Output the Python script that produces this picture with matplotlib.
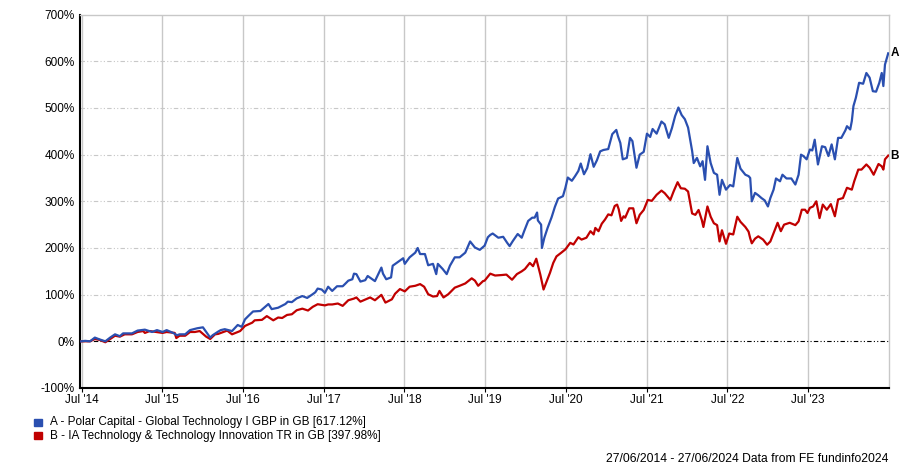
import matplotlib
matplotlib.use("Agg")
import matplotlib.pyplot as plt
from matplotlib.patches import Rectangle
from datetime import datetime, timedelta

plt.rcParams['font.family'] = ['Liberation Sans', 'DejaVu Sans']

# dates as decimal years, cumulative performance in %
year_a = [2014.49, 2014.54, 2014.60, 2014.66, 2014.72, 2014.79, 2014.85, 2014.91, 2014.97, 2015.01,
          2015.12, 2015.19, 2015.28, 2015.37, 2015.43, 2015.50, 2015.55, 2015.63, 2015.68, 2015.71,
          2015.78, 2015.84, 2015.93, 2016.00, 2016.05, 2016.09, 2016.12, 2016.19, 2016.22, 2016.27,
          2016.36, 2016.43, 2016.48, 2016.52, 2016.56, 2016.62, 2016.71, 2016.77, 2016.81, 2016.85,
          2016.93, 2017.02, 2017.05, 2017.10, 2017.16, 2017.23, 2017.29, 2017.35, 2017.39, 2017.42,
          2017.47, 2017.51, 2017.55, 2017.60, 2017.66, 2017.73, 2017.76, 2017.80, 2017.85, 2017.87,
          2017.90, 2017.95, 2018.01, 2018.04, 2018.13, 2018.21, 2018.23, 2018.27, 2018.33, 2018.35,
          2018.44, 2018.48, 2018.50, 2018.56, 2018.63, 2018.66, 2018.69, 2018.75, 2018.79, 2018.85,
          2018.89, 2018.91, 2018.97, 2019.02, 2019.06, 2019.12, 2019.18, 2019.25, 2019.31, 2019.37,
          2019.43, 2019.49, 2019.53, 2019.56, 2019.59, 2019.66, 2019.72, 2019.77, 2019.80, 2019.84,
          2019.90, 2019.95, 2019.98, 2020.03, 2020.08, 2020.11, 2020.14, 2020.15, 2020.19, 2020.20,
          2020.23, 2020.27, 2020.32, 2020.36, 2020.40, 2020.46, 2020.49, 2020.52, 2020.57, 2020.61,
          2020.65, 2020.68, 2020.72, 2020.76, 2020.80, 2020.84, 2020.88, 2020.92, 2020.96, 2021.02,
          2021.07, 2021.12, 2021.14, 2021.17, 2021.20, 2021.25, 2021.29, 2021.32, 2021.37, 2021.41,
          2021.46, 2021.50, 2021.54, 2021.57, 2021.62, 2021.68, 2021.72, 2021.77, 2021.81, 2021.85,
          2021.89, 2021.93, 2021.97, 2022.01, 2022.06, 2022.08, 2022.12, 2022.16, 2022.19, 2022.22,
          2022.25, 2022.29, 2022.33, 2022.37, 2022.40, 2022.43, 2022.48, 2022.53, 2022.57, 2022.62,
          2022.66, 2022.72, 2022.76, 2022.78, 2022.80, 2022.84, 2022.88, 2022.92, 2022.96, 2023.00,
          2023.03, 2023.07, 2023.10, 2023.15, 2023.18, 2023.23, 2023.29, 2023.34, 2023.38, 2023.41,
          2023.44, 2023.48, 2023.52, 2023.55, 2023.58, 2023.62, 2023.67, 2023.71, 2023.75, 2023.79,
          2023.83, 2023.87, 2023.91, 2023.96, 2023.98, 2024.02, 2024.04, 2024.06, 2024.09, 2024.13,
          2024.18, 2024.22, 2024.26, 2024.30, 2024.34, 2024.38, 2024.41, 2024.43, 2024.45, 2024.49]
perf_a = [0, 1, 0, 8, 4, 0, 8, 15, 11, 17,
          17, 23, 25, 20, 24, 20, 24, 18, 13, 15,
          15, 24, 28, 30, 18, 8, 13, 21, 24, 26,
          22, 35, 31, 47, 54, 64, 65, 74, 80, 69,
          72, 80, 85, 84, 92, 97, 93, 100, 105, 113,
          111, 104, 117, 108, 118, 118, 123, 130, 133, 145,
          144, 128, 131, 140, 129, 158, 145, 133, 137, 162,
          173, 178, 166, 180, 190, 200, 187, 187, 163, 166,
          144, 166, 155, 144, 162, 180, 180, 190, 214, 201,
          196, 205, 223, 228, 231, 222, 224, 211, 204, 215,
          230, 222, 236, 258, 265, 265, 276, 259, 250, 200,
          222, 243, 266, 288, 306, 311, 329, 351, 344, 354,
          365, 381, 358, 371, 401, 374, 388, 407, 410, 412,
          444, 453, 440, 425, 390, 393, 436, 429, 372, 400,
          406, 445, 438, 455, 445, 471, 465, 436, 457, 483,
          501, 485, 476, 458, 408, 382, 393, 375, 386, 346,
          418, 382, 361, 357, 314, 346, 325, 335, 332, 393,
          370, 357, 354, 350, 300, 318, 313, 307, 302, 289,
          307, 325, 349, 343, 357, 349, 349, 336, 357, 400,
          397, 390, 411, 409, 432, 379, 418, 416, 397, 422,
          390, 436, 436, 452, 461, 454, 472, 504, 522, 554,
          552, 575, 565, 536, 535, 554, 575, 547, 593, 617.12]

year_b = [2014.49, 2014.60, 2014.66, 2014.72, 2014.79, 2014.85, 2014.91, 2014.97, 2015.03, 2015.12,
          2015.19, 2015.26, 2015.28, 2015.34, 2015.50, 2015.55, 2015.65, 2015.67, 2015.71, 2015.78,
          2015.84, 2015.90, 2015.96, 2016.04, 2016.09, 2016.15, 2016.19, 2016.30, 2016.36, 2016.46,
          2016.52, 2016.61, 2016.64, 2016.73, 2016.79, 2016.87, 2016.93, 2016.98, 2017.04, 2017.10,
          2017.16, 2017.23, 2017.30, 2017.36, 2017.42, 2017.51, 2017.55, 2017.60, 2017.67, 2017.73,
          2017.80, 2017.87, 2017.90, 2017.95, 2018.07, 2018.13, 2018.21, 2018.26, 2018.34, 2018.38,
          2018.44, 2018.50, 2018.56, 2018.63, 2018.69, 2018.74, 2018.79, 2018.85, 2018.90, 2018.93,
          2018.98, 2019.04, 2019.12, 2019.18, 2019.25, 2019.33, 2019.37, 2019.41, 2019.47, 2019.49,
          2019.56, 2019.62, 2019.70, 2019.76, 2019.83, 2019.89, 2019.95, 2019.99, 2020.05, 2020.09,
          2020.13, 2020.18, 2020.22, 2020.26, 2020.30, 2020.34, 2020.38, 2020.44, 2020.49, 2020.55,
          2020.59, 2020.65, 2020.69, 2020.75, 2020.80, 2020.84, 2020.86, 2020.90, 2020.94, 2020.98,
          2021.02, 2021.06, 2021.10, 2021.13, 2021.15, 2021.18, 2021.21, 2021.23, 2021.28, 2021.33,
          2021.37, 2021.41, 2021.46, 2021.51, 2021.56, 2021.62, 2021.68, 2021.72, 2021.79, 2021.83,
          2021.88, 2021.92, 2021.97, 2022.01, 2022.06, 2022.10, 2022.14, 2022.18, 2022.20, 2022.25,
          2022.29, 2022.33, 2022.37, 2022.40, 2022.43, 2022.48, 2022.52, 2022.57, 2022.62, 2022.66,
          2022.72, 2022.76, 2022.78, 2022.80, 2022.84, 2022.88, 2022.94, 2022.99, 2023.03, 2023.07,
          2023.12, 2023.16, 2023.20, 2023.27, 2023.34, 2023.38, 2023.42, 2023.46, 2023.49, 2023.52,
          2023.56, 2023.60, 2023.64, 2023.68, 2023.73, 2023.78, 2023.83, 2023.87, 2023.93, 2023.98,
          2024.04, 2024.07, 2024.12, 2024.16, 2024.22, 2024.26, 2024.31, 2024.37, 2024.41, 2024.43,
          2024.45, 2024.49]
perf_b = [0, 0, 5, 3, -2, 5, 12, 10, 15, 15,
          20, 22, 18, 22, 18, 20, 18, 7, 12, 12,
          20, 20, 22, 10, 5, 15, 16, 23, 15, 22,
          33, 40, 45, 46, 54, 45, 51, 50, 56.5, 58,
          66.6, 70, 66, 74, 79.5, 77, 79, 79, 81, 76,
          88, 91.6, 94, 85, 94, 88, 99.6, 83, 90, 102,
          112, 107, 117, 119, 122.6, 117, 101, 96, 97, 108,
          94, 101, 115, 119, 124, 135, 130, 119, 129, 130,
          145, 141, 142, 143, 132, 144, 150, 155, 168, 161,
          177, 143, 111, 129, 147, 168, 182, 190, 197, 211,
          207.5, 223, 218, 222, 236, 229, 243, 236, 252, 261,
          272, 270, 290, 293, 283, 258, 268, 265, 285, 285,
          253, 271, 281.5, 303, 301, 314, 323, 317.5, 303, 321,
          341, 328, 327, 321, 274, 271, 281.5, 260, 245, 289,
          267, 253, 249, 214, 238, 209, 231, 229, 267, 256,
          245, 235, 221, 210, 220, 225, 218, 207, 214, 232,
          254, 236, 250, 254, 249, 257, 282, 282, 275, 286,
          289, 300, 264, 293, 282, 294, 268, 304, 307, 329,
          325, 343, 368, 368, 379, 372, 357, 380, 375, 368,
          390, 397.98]

labels = ["A - Polar Capital - Global Technology I GBP in GB [617.12%]",
          "B - IA Technology & Technology Innovation TR in GB [397.98%]"]
colors = ["#2a4fb0", "#c00000"]
tick_years = list(range(2014, 2024))
y_ticks = list(range(-100, 701, 100))


def to_date(t):
    y = int(t)
    start = datetime(y, 1, 1)
    n = (datetime(y + 1, 1, 1) - start).days
    return start + timedelta(days=(t - y) * n)


dates_a = [to_date(t) for t in year_a]
dates_b = [to_date(t) for t in year_b]

fig = plt.figure(figsize=(9, 4.67), dpi=100)
ax = fig.add_axes([0.0889, 0.1692, 0.8989, 0.7994])

grey = "#c8c8c8"
dashdotdot = (0, (4, 2, 1, 2, 1, 2))

# grid
for yv in y_ticks[1:-1]:
    if yv == 0:
        continue
    ax.axhline(yv, color=grey, lw=0.8, linestyle=dashdotdot, zorder=1)
xt = [datetime(y, 7, 1) for y in tick_years]
for d in xt:
    ax.axvline(d, color=grey, lw=1, zorder=1)
ax.axhline(0, color="black", lw=0.8, linestyle=dashdotdot, zorder=2)

ax.plot(dates_a, perf_a, color=colors[0], lw=1.6, zorder=4)
ax.plot(dates_b, perf_b, color=colors[1], lw=1.6, zorder=3)

ax.set_ylim(-100, 700)
ax.set_xlim(to_date(2014.476), to_date(2024.50))
ax.set_yticks(y_ticks)
ax.set_yticklabels([f"{v}%" for v in y_ticks])
ax.set_xticks(xt)
ax.set_xticklabels([f"Jul '{str(y)[2:]}" for y in tick_years])
ax.tick_params(axis="y", length=0, pad=4, labelsize=8.5)
ax.tick_params(axis="x", length=3, pad=1, labelsize=8.5, color="black")

for s in ["left", "bottom"]:
    ax.spines[s].set_color("black")
    ax.spines[s].set_linewidth(1.5)
for s in ["top", "right"]:
    ax.spines[s].set_color(grey)
    ax.spines[s].set_linewidth(1)

# end labels
ax.annotate("A", (dates_a[-1], perf_a[-1]), xytext=(1.5, 0), textcoords="offset points",
            fontsize=8.5, fontweight="bold", va="center", annotation_clip=False)
ax.annotate("B", (dates_b[-1], perf_b[-1]), xytext=(1.5, 0), textcoords="offset points",
            fontsize=8.5, fontweight="bold", va="center", annotation_clip=False)

# legend
for i, (lab, c) in enumerate(zip(labels, colors)):
    yc = 1 - (422.5 + 13.3 * i) / 467
    fig.patches.append(Rectangle((34 / 900, yc - 3.5 / 467), 7.5 / 900, 7.5 / 467,
                                 transform=fig.transFigure, color=c))
    fig.text(50 / 900, yc, lab, fontsize=8.5, va="center", ha="left")

fig.text(888 / 900, 1 - 459 / 467, "27/06/2014 - 27/06/2024 Data from FE fundinfo2024",
         fontsize=8.7, ha="right", va="center")

fig.savefig("out.png", dpi=100)
